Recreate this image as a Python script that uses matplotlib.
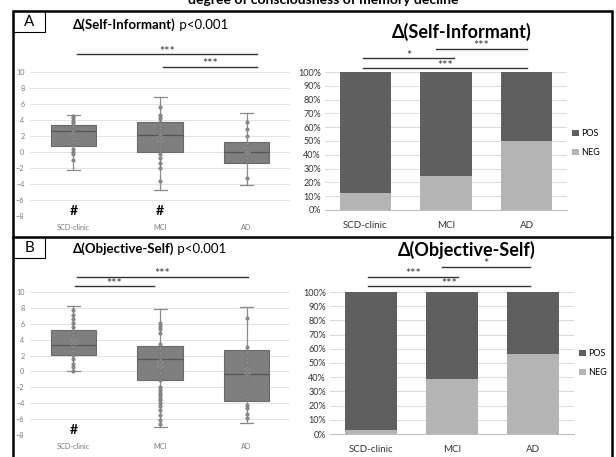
import matplotlib
matplotlib.use("Agg")
import matplotlib.pyplot as plt
from matplotlib.patches import Rectangle
from matplotlib.lines import Line2D
import matplotlib.ticker as mtick

plt.rcParams['font.family'] = ['Lato', 'DejaVu Sans']

W, H = 616, 457
fig = plt.figure(figsize=(W / 100, H / 100), dpi=100)
fig.patch.set_facecolor('white')

groups = ["SCD-clinic", "MCI", "AD"]

# ---- Panel A box plot: Δ(Self-Informant) ----
a_q1 = [0.8, 0.0, -1.4]
a_med = [2.6, 2.1, 0.0]
a_q3 = [3.4, 3.7, 1.3]
a_lo = [-2.2, -4.8, -4.1]
a_hi = [4.6, 6.9, 4.9]
a_mean = [2.0, 1.6, 0.2]
a_pts_scd = [4.5, 4.2, 3.9, 3.6, 3.2, 2.8, 2.5, 2.2, 1.9, 1.6, 1.2, 0.4, 0.0, -0.25, -1.0]
a_pts_mci = [5.6, 4.6, 4.2, 3.8, 3.4, 3.0, 2.5, 2.1, 1.7, 1.3, 0.9, 0.5, -0.2, -0.8, -1.4, -2.0, -3.6]
a_pts_ad = [3.7, 2.9, 2.0, 1.1, 0.5, 0.1, -0.25, -0.8, -3.2]
a_hash = [True, True, False]

# ---- Panel B box plot: Δ(Objective-Self) ----
b_q1 = [2.1, -1.1, -3.7]
b_med = [3.3, 1.6, -0.3]
b_q3 = [5.2, 3.2, 2.7]
b_lo = [0.0, -7.0, -6.5]
b_hi = [8.2, 7.8, 8.1]
b_mean = [3.7, 1.0, 0.0]
b_pts_scd = [7.7, 7.1, 6.6, 6.1, 5.6, 5.1, 4.6, 4.2, 3.6, 3.1, 2.6, 2.1, 1.6, 1.0, 0.6, 0.1]
b_pts_mci = [6.1, 5.7, 5.3, 4.9, 3.5, 2.9, 2.3, 1.4, 1.0, 0.4, -0.2, -1.1, -2.0, -2.3, -2.7,
             -3.0, -3.3, -3.6, -4.0, -4.4, -4.9, -5.5, -6.1, -6.6]
b_pts_ad = [6.7, 3.1, 2.5, 1.6, 1.2, 0.6, 0.0, -0.5, -1.1, -2.1, -3.2, -4.2, -4.6, -5.3, -5.8]
b_hash = [True, False, False]

# ---- Stacked bars (percent) ----
a_neg = [12.5, 25.0, 50.0]
b_neg = [3.0, 39.0, 56.0]
a_pos = [100 - v for v in a_neg]
b_pos = [100 - v for v in b_neg]

POS_C = '#5f5f5f'
NEG_C = '#b4b4b4'
BOX_C = '#7f7f7f'


def ax_px(x0, y0, x1, y1):
    return fig.add_axes([x0 / W, 1 - y1 / H, (x1 - x0) / W, (y1 - y0) / H])


def fx(x):
    return x / W


def fy(y):
    return 1 - y / H


def hline(x0, x1, y, lw=1.0, color='#333333'):
    fig.add_artist(Line2D([fx(x0), fx(x1)], [fy(y), fy(y)], lw=lw, color=color,
                          transform=fig.transFigure))


def sig(x0, x1, y, s):
    hline(x0, x1, y)
    fig.text(fx((x0 + x1) / 2), fy(y + 1.5), s, ha='center', va='baseline', fontsize=9,
             color='#333333')


def title_with_p(x, y, bold):
    t = fig.text(fx(x), fy(y), bold, ha='left', va='baseline', fontsize=9.5,
                 fontweight='bold')
    r = fig.canvas.get_renderer()
    bb = t.get_window_extent(renderer=r)
    fig.text(bb.x1 / (fig.dpi * fig.get_figwidth()), fy(y), ' p<0.001', ha='left',
             va='baseline', fontsize=9.5)


def boxpanel(ax, q1, med, q3, lo, hi, mean, pts, hashes):
    stats = []
    for i in range(3):
        stats.append(dict(q1=q1[i], med=med[i], q3=q3[i], whislo=lo[i], whishi=hi[i],
                          mean=mean[i], fliers=[]))
    ax.bxp(stats, positions=[1, 2, 3], widths=0.52, patch_artist=True, showmeans=True,
           boxprops=dict(facecolor=BOX_C, edgecolor='#6a6a6a', lw=0.8),
           medianprops=dict(color='#555555', lw=0.9),
           whiskerprops=dict(color='#8a8a8a', lw=0.9),
           capprops=dict(color='#8a8a8a', lw=0.9),
           meanprops=dict(marker='x', markeredgecolor='#999999', markersize=5, mew=0.9),
           capwidths=0.15, zorder=2)
    for i, p in enumerate(pts):
        ax.scatter([i + 1] * len(p), p, s=6, color='#8c8c8c', edgecolors='#707070',
                   linewidths=0.4, zorder=3)
    for i, h in enumerate(hashes):
        if h:
            ax.text(i + 1, -7.4, '#', ha='center', va='center', fontsize=10,
                    fontweight='bold', color='black')
    ax.set_xlim(0.5, 3.5)
    ax.set_ylim(-8, 10)
    ax.set_yticks(range(-8, 11, 2))
    ax.set_xticks([1, 2, 3])
    ax.set_xticklabels(groups)
    ax.tick_params(axis='both', length=0, labelsize=5.2, labelcolor='#7a7a7a')
    ax.tick_params(axis='y', pad=4)
    ax.tick_params(axis='x', pad=6)
    ax.grid(axis='y', color='#e3e3e3', lw=0.7)
    ax.set_axisbelow(True)
    for s in ax.spines.values():
        s.set_visible(False)


def barpanel(ax, neg, pos, legend_y):
    x = [1, 2, 3]
    ax.bar(x, neg, width=0.64, color=NEG_C, label='NEG', zorder=2)
    ax.bar(x, pos, width=0.64, bottom=neg, color=POS_C, label='POS', zorder=2)
    ax.set_xlim(0.5, 3.5)
    ax.set_ylim(0, 100)
    ax.set_yticks(range(0, 101, 10))
    ax.yaxis.set_major_formatter(mtick.PercentFormatter(decimals=0))
    ax.set_xticks(x)
    ax.set_xticklabels(groups)
    ax.tick_params(axis='y', length=0, labelsize=6.5, labelcolor='#333333', pad=3)
    ax.tick_params(axis='x', length=0, labelsize=7, labelcolor='#333333', pad=8)
    ax.grid(axis='y', color='#d9d9d9', lw=0.7)
    ax.set_axisbelow(True)
    for k, s in ax.spines.items():
        s.set_visible(k == 'bottom')
    ax.spines['bottom'].set_color('#bfbfbf')
    h, l = ax.get_legend_handles_labels()
    ax.legend(h[::-1], l[::-1], loc='center left', bbox_to_anchor=(1.0, legend_y),
              frameon=False, fontsize=6.5, handlelength=0.7, handleheight=0.7,
              handletextpad=0.3, labelspacing=1.1, borderaxespad=0.2)


# --- frames ---
fig.add_artist(Rectangle((fx(13), fy(470)), fx(612) - fx(13), fy(11) - fy(470),
                         fill=False, lw=1.8, ec='black', transform=fig.transFigure,
                         clip_on=False))
hline(13, 612, 237, lw=1.8, color='black')
for y0, y1, lab in [(11, 32, 'A'), (237, 258, 'B')]:
    fig.add_artist(Rectangle((fx(13), fy(y1)), fx(45) - fx(13), fy(y0) - fy(y1),
                             fill=False, lw=0.8, ec='black', transform=fig.transFigure))
    fig.text(fx(29), fy((y0 + y1) / 2), lab, ha='center', va='center', fontsize=11)

fig.text(fx(323), fy(4), 'degree of consciousness of memory decline', ha='center',
         va='baseline', fontsize=10, fontweight='bold')

# --- Panel A ---
axA = ax_px(30, 72, 290, 216)
boxpanel(axA, a_q1, a_med, a_q3, a_lo, a_hi, a_mean, [a_pts_scd, a_pts_mci, a_pts_ad], a_hash)
title_with_p(73, 29, 'Δ(Self-Informant)')
sig(77, 257, 54, '***')
sig(163, 257, 67, '***')

axAb = ax_px(325, 72, 567, 210)
barpanel(axAb, a_neg, a_pos, 0.485)
fig.text(fx(462), fy(32), 'Δ(Self-Informant)', ha='center', va='center', fontsize=13,
         fontweight='bold')
sig(436, 527, 49, '***')
sig(363, 454, 58, '*')
sig(363, 527, 68, '***')

# --- Panel B ---
axB = ax_px(30, 292, 290, 435)
boxpanel(axB, b_q1, b_med, b_q3, b_lo, b_hi, b_mean, [b_pts_scd, b_pts_mci, b_pts_ad], b_hash)
title_with_p(73, 253, 'Δ(Objective-Self)')
sig(77, 248, 277, '***')
sig(75, 154, 286, '***')

axBb = ax_px(330, 292, 574, 434)
barpanel(axBb, b_neg, b_pos, 0.5)
fig.text(fx(467), fy(250), 'Δ(Objective-Self)', ha='center', va='center', fontsize=13,
         fontweight='bold')
sig(442, 530, 267, '*')
sig(368, 458, 277, '***')
sig(368, 530, 286, '***')

fig.savefig('out.png', dpi=100)
